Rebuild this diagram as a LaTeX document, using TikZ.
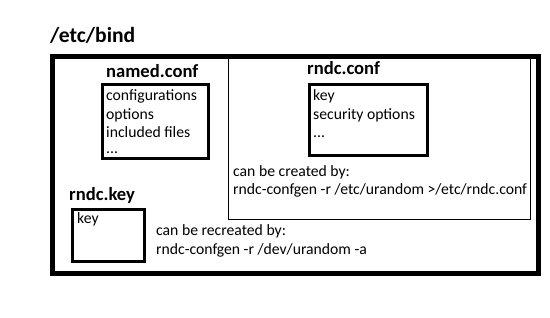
\documentclass[tikz,border=0pt]{standalone}
\usepackage{fontspec}
\setmainfont{Carlito}
\usepackage{xcolor}
\usepackage{tikz}
\usetikzlibrary{positioning}
\definecolor{ink}{HTML}{000000}
\tikzset{
  dirbox/.style={draw=ink,line width=5.5pt,inner sep=0pt,anchor=north west},
  filebox/.style={draw=ink,line width=3pt,inner sep=0pt,anchor=north west},
  thinbox/.style={draw=ink,line width=1pt,inner sep=0pt,anchor=north west},
  % multi-line texts are placed by the baseline of their last line
  body/.style={inner sep=0pt,anchor=base west,align=left,
    font=\fontsize{15.7}{18.6}\selectfont},
  flabel/.style={inner sep=0pt,anchor=base west,font=\fontsize{18.6}{20}\selectfont\bfseries},
  dlabel/.style={inner sep=0pt,anchor=base west,font=\fontsize{21.6}{24}\selectfont\bfseries},
}
\begin{document}
\begin{tikzpicture}[x=1pt,y=-1pt]
  \useasboundingbox[fill=white] (0,0) rectangle (550,318);
  % the directory
  \node[dlabel] (bindlab) at (50,43) {/etc/bind};
  \node[dirbox,minimum width=486pt,minimum height=217pt] (bind) at (49.5,54) {};
  % named.conf
  \node[flabel] (namedlab) at (106,78) {named.conf};
  \node[filebox,minimum width=106pt,minimum height=74pt] (named) at (100.5,83.5) {};
  \node[body] (namedtxt) at (106,154) {configurations\\options\\included files\\[-2.5pt]...};
  % rndc.conf
  \node[thinbox,minimum width=302pt,minimum height=162pt] (rconfarea) at (228,57) {};
  \node[flabel] (rconflab) at (307,75) {rndc.conf};
  \node[filebox,minimum width=118pt,minimum height=71pt] (rconf) at (307.5,83.5) {};
  \node[body] (rconftxt) at (313,138) {key\\security options\\...};
  \node[body] (rconfcmd) at (233,195) {can be created by:\\rndc-confgen -r /etc/urandom >/etc/rndc.conf};
  % rndc.key
  \node[flabel] (rkeylab) at (69,201) {rndc.key};
  \node[filebox,minimum width=72pt,minimum height=52pt] (rkey) at (70.5,208.5) {};
  \node[body] (rkeytxt) at (77,224) {key};
  \node[body] (rkeycmd) at (156,254.5) {can be recreated by:\\rndc-confgen -r /dev/urandom -a};
\end{tikzpicture}
\end{document}
